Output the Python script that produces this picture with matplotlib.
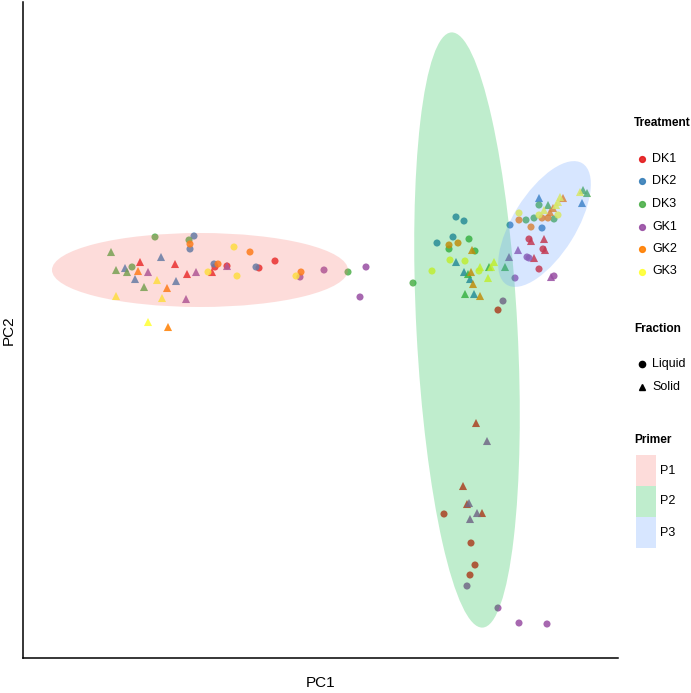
import matplotlib
matplotlib.use('Agg')
import matplotlib.pyplot as plt
from matplotlib.patches import Ellipse, Rectangle
from matplotlib.lines import Line2D
import numpy as np

plt.rcParams['font.family'] = ['Liberation Sans', 'DejaVu Sans']

# ── scores (arbitrary PC units, PC2 axis drawn inverted) ──
pc1 = [155, 194, 189, 190, 190, 111, 161, 140, 175, 234, 250, 275, 214, 215, 218, 227, 227, 256, 259,
       116, 125, 132, 127, 138, 148, 187, 196, 208, 212, 237, 296, 300, 301, 324, 348, 366, 360,
       135, 157, 176, 144, 167, 116, 162, 186, 148, 168, 413,
       432, 456, 464, 437, 453, 449, 449, 458, 469, 472, 475, 450, 456, 465, 464, 468, 471, 470, 473,
       465, 474, 480, 479, 480, 489, 494, 491, 488, 505, 503, 498,
       580, 587, 583, 582, 560, 563, 539, 548, 519, 539, 558, 553, 519, 526, 534, 539, 542, 548, 554,
       558, 531, 510, 542, 529, 531, 544, 543, 545, 518, 509, 527, 529, 534, 539, 515, 551, 554,
       550, 556, 544,
       476, 487, 463, 467, 469, 477, 482, 470, 444, 471, 475, 470, 467, 498, 519, 547]
pc2 = [237, 236, 240, 244, 249, 252, 257, 262, 264, 247, 252, 261, 264, 267, 264, 266, 266, 267, 268,
       270, 268, 267, 272, 271, 272, 274, 272, 272, 272, 276, 276, 277, 272, 270, 272, 267, 297,
       279, 280, 281, 287, 288, 296, 298, 299, 322, 327, 283,
       271, 217, 221, 243, 237, 245, 249, 243, 239, 250, 251, 260, 262, 261, 272, 274, 272, 279, 284,
       294, 294, 296, 271, 267, 267, 262, 267, 278, 267, 301, 310,
       192, 193, 190, 203, 197, 198, 198, 205, 213, 205, 202, 208, 220, 220, 218, 215, 218, 218, 219,
       215, 227, 225, 228, 239, 241, 239, 249, 250, 250, 257, 257, 258, 258, 269, 278, 277, 276,
       212, 205, 210,
       423, 441, 486, 504, 503, 513, 513, 519, 514, 543, 565, 575, 586, 608, 623, 624]
treatment = ['DK3', 'DK2', 'DK3', 'GK2', 'DK2', 'DK3', 'DK2', 'DK1', 'DK1', 'GK3', 'GK2', 'DK1', 'DK2', 'DK1',
             'GK2', 'DK1', 'GK1', 'DK2', 'DK1',
             'DK3', 'DK2', 'DK3', 'DK3', 'GK2', 'GK1', 'DK1', 'GK1', 'GK3', 'DK1', 'GK3', 'GK3', 'GK1', 'GK2',
             'GK1', 'DK3', 'GK1', 'GK1',
             'DK2', 'GK3', 'DK2', 'DK3', 'GK2', 'GK3', 'GK3', 'GK1', 'GK3', 'GK2', 'DK3',
             'GK3', 'DK2', 'DK2', 'DK2', 'DK2', 'GK2', 'DK3', 'GK2', 'DK3', 'GK2', 'DK3', 'GK3', 'DK2', 'GK3',
             'DK2', 'DK3', 'GK2', 'DK2', 'GK2',
             'DK3', 'DK2', 'GK2', 'GK3', 'GK3', 'DK3', 'GK3', 'GK3', 'GK3', 'DK3', 'GK1', 'DK1',
             'GK3', 'DK3', 'DK3', 'DK2', 'GK3', 'GK2', 'DK2', 'DK3', 'GK3', 'DK3', 'GK3', 'GK2', 'GK2', 'DK3',
             'DK3', 'GK3', 'GK2', 'GK2', 'DK3',
             'GK3', 'GK2', 'DK2', 'DK2', 'DK1', 'DK1', 'DK1', 'DK1', 'DK1', 'GK1', 'GK1', 'GK1', 'GK1', 'DK1',
             'DK1', 'GK1', 'GK1', 'GK1',
             'GK2', 'GK3', 'GK3',
             'DK1', 'GK1', 'DK1', 'DK1', 'GK1', 'GK1', 'DK1', 'GK1', 'DK1', 'DK1', 'DK1', 'DK1', 'GK1', 'GK1',
             'GK1', 'GK1']
fraction = ['L', 'L', 'L', 'L', 'L', 'S', 'S', 'S', 'S', 'L', 'L', 'L', 'L', 'L', 'L', 'L', 'S', 'L', 'L',
            'S', 'S', 'L', 'S', 'S', 'S', 'S', 'S', 'L', 'S', 'L', 'L', 'L', 'L', 'L', 'L', 'L', 'L',
            'S', 'S', 'S', 'S', 'S', 'S', 'S', 'S', 'S', 'S', 'L',
            'L', 'L', 'L', 'L', 'L', 'L', 'L', 'L', 'L', 'S', 'L', 'L', 'S', 'L', 'S', 'S', 'S', 'S', 'S',
            'S', 'S', 'S', 'L', 'S', 'S', 'S', 'S', 'S', 'S', 'L', 'L',
            'S', 'S', 'S', 'S', 'S', 'S', 'S', 'S', 'L', 'L', 'S', 'S', 'L', 'L', 'L', 'L', 'L', 'L', 'L',
            'L', 'L', 'L', 'L', 'L', 'S', 'S', 'L', 'S', 'S', 'S', 'L', 'L', 'S', 'L', 'L', 'S', 'L',
            'S', 'S', 'S',
            'S', 'S', 'S', 'S', 'S', 'S', 'S', 'S', 'L', 'L', 'L', 'L', 'L', 'L', 'L', 'L']

treatments = ['DK1', 'DK2', 'DK3', 'GK1', 'GK2', 'GK3']
treat_colors = ['#E41A1C', '#377EB8', '#4DAF4A', '#984EA3', '#FF7F00', '#FFFF33']
fractions = ['Liquid', 'Solid']
frac_codes = ['L', 'S']
frac_markers = ['o', '^']

# primer ellipses: centre, major/minor axis, angle
primers = ['P1', 'P2', 'P3']
primer_colors = ['#F8766D', '#00BA38', '#619CFF']
ell_center = [(200, 270), (467, 330), (544.5, 224)]
ell_width = [296, 596, 143]
ell_height = [74, 101, 63]
ell_angle = [0, 87, -58]

pc1 = np.array(pc1); pc2 = np.array(pc2)
treatment = np.array(treatment); fraction = np.array(fraction)

W, H = 691, 693
fig = plt.figure(figsize=(W / 100, H / 100), dpi=100)
ax = fig.add_axes([23 / W, 1 - 658 / H, (618 - 23) / W, (658 - 2) / H])

for t, c in zip(treatments, treat_colors):
    for code, m in zip(frac_codes, frac_markers):
        sel = (treatment == t) & (fraction == code)
        ax.scatter(pc1[sel], pc2[sel], s=26 if m == 'o' else 34, marker=m, color=c,
                   alpha=0.85, edgecolors='none', zorder=2)

for cen, w, h, a, c in zip(ell_center, ell_width, ell_height, ell_angle, primer_colors):
    ax.add_patch(Ellipse(cen, w, h, angle=a, facecolor=c, alpha=0.25, edgecolor='none', zorder=3))

ax.set_xlim(23, 618)
ax.set_ylim(658, 2)
ax.set_xticks([]); ax.set_yticks([])
for s in ['top', 'right']:
    ax.spines[s].set_visible(False)
for s in ['left', 'bottom']:
    ax.spines[s].set_linewidth(1.1)
ax.set_xlabel('PC1', fontsize=11, labelpad=13)
ax.set_ylabel('PC2', fontsize=11, labelpad=5)

# ── legends, drawn by hand in figure pixels ──
def fx(px): return px / W
def fy(py): return 1 - py / H

TITLE_FS = 8.6
LABEL_FS = 9

fig.text(fx(634), fy(123), 'Treatment', fontsize=TITLE_FS, fontweight='bold', va='center')
for i, (t, c) in enumerate(zip(treatments, treat_colors)):
    y = 159 + i * 22.5
    fig.add_artist(Line2D([fx(642)], [fy(y)], marker='o', markersize=4.2, color=c, alpha=0.9, ls='none'))
    fig.text(fx(652), fy(y), t, fontsize=LABEL_FS, va='center')

fig.text(fx(634), fy(329), 'Fraction', fontsize=TITLE_FS, fontweight='bold', va='center')
for i, (f, m) in enumerate(zip(fractions, frac_markers)):
    y = 364 + i * 23
    fig.add_artist(Line2D([fx(642)], [fy(y)], marker=m, markersize=4.5, color='black', ls='none'))
    fig.text(fx(652), fy(y), f, fontsize=LABEL_FS, va='center')

fig.text(fx(634), fy(440), 'Primer', fontsize=TITLE_FS, fontweight='bold', va='center')
for i, (p, c) in enumerate(zip(primers, primer_colors)):
    y0 = 455 + i * 31
    fig.add_artist(Rectangle((fx(636), fy(y0 + 31)), 20 / W, 31 / H, transform=fig.transFigure,
                             facecolor=c, alpha=0.25, edgecolor='none'))
    fig.text(fx(660), fy(y0 + 15.5), p, fontsize=LABEL_FS, va='center')

fig.savefig('out.png', dpi=100)
